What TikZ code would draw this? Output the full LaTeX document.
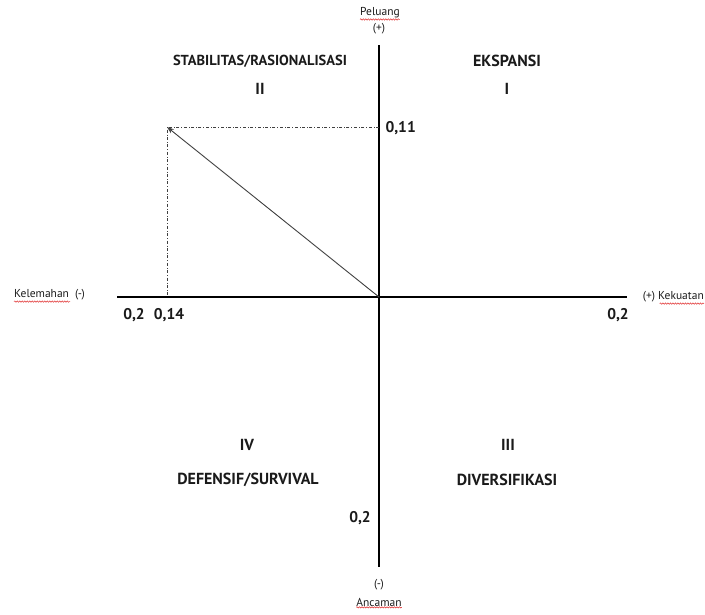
\documentclass[tikz,border=0pt]{standalone}
\usepackage{fontspec}
\setmainfont{PT Sans}
\usetikzlibrary{arrows.meta, decorations.pathmorphing}
\definecolor{axisblack}{HTML}{000000}
\definecolor{diaggray}{HTML}{404040}
\definecolor{squiggle}{HTML}{E03030}
\definecolor{txtdark}{HTML}{1A1A1A}

\begin{document}
\begin{tikzpicture}[
    x=1pt, y=-1pt,
    >=Stealth,
    text=txtdark,
    axis/.style={line width=2pt, color=axisblack},
    guide/.style={dash dot, line width=0.7pt, color=diaggray},
    vector/.style={-{Stealth[length=7pt, width=5pt]}, line width=0.9pt, color=diaggray},
    quadlabel/.style={font=\bfseries\fontsize{16}{18}\selectfont},
    ticklabel/.style={font=\bfseries\fontsize{15.5}{18}\selectfont},
    axislabel/.style={font=\fontsize{11.5}{13}\selectfont, inner sep=0pt},
    spell/.style={squiggle, line width=0.5pt, decorate,
        decoration={snake, amplitude=0.7pt, segment length=2.5pt}},
]
\useasboundingbox (0,0) rectangle (705,614);

% Axes
\coordinate (origin) at (379,297);
\coordinate (top) at (379,45);
\coordinate (bottom) at (379,567);
\coordinate (left) at (117,297);
\coordinate (right) at (627,297);
\draw[axis] (top) -- (bottom);
\draw[axis] (left) -- (right);

% Position point (-0,14 ; 0,11)
\coordinate (pos) at (167,127);
\coordinate (posx) at (167,297);
\coordinate (posy) at (379,127);
\draw[guide] (posy) -- (pos) -- (posx);
\draw[vector] (origin) -- (pos);

% Axis labels
\node[axislabel] (peluang) at (380,13) {Peluang};
\node[axislabel] (plusup) at (379,29) {(+)};
\node[axislabel, anchor=west] (kelemahan) at (14,295) {Kelemahan\ \ (-)};
\node[axislabel, anchor=east] (kekuatan) at (704,297) {(+) Kekuatan};
\node[axislabel] (minusdown) at (379,585) {(-)};
\node[axislabel] (ancaman) at (379,602) {Ancaman};

% Spell check squiggles
\draw[spell] ([yshift=-1pt]peluang.south west) -- ([yshift=-1pt]peluang.south east);
\draw[spell] ([yshift=-1pt]kelemahan.south west) -- ++(56,0);
\draw[spell] ([xshift=17pt, yshift=-1pt]kekuatan.south west) -- ([yshift=-1pt]kekuatan.south east);
\draw[spell] ([yshift=-1pt]ancaman.south west) -- ([yshift=-1pt]ancaman.south east);

% Tick values
\node[ticklabel] (lefttwo) at (134,315) {0,2};
\node[ticklabel] (leftfourteen) at (169,315) {0,14};
\node[ticklabel] (righttwo) at (618,315) {0,2};
\node[ticklabel, anchor=west] (upeleven) at (382,128) {0,11};
\node[ticklabel] (downtwo) at (360,518) {0,2};

% Quadrants
\node[quadlabel, font=\bfseries\fontsize{14.5}{18}\selectfont] (stab) at (260,61) {STABILITAS/RASIONALISASI};
\node[quadlabel] (qtwo) at (260,89) {II};
\node[quadlabel] (eksp) at (507,61) {EKSPANSI};
\node[quadlabel] (qone) at (507,89) {I};
\node[quadlabel] (qfour) at (247,445) {IV};
\node[quadlabel] (def) at (248,480) {DEFENSIF/SURVIVAL};
\node[quadlabel] (qthree) at (508,445) {III};
\node[quadlabel] (div) at (507,480) {DIVERSIFIKASI};

\end{tikzpicture}
\end{document}
